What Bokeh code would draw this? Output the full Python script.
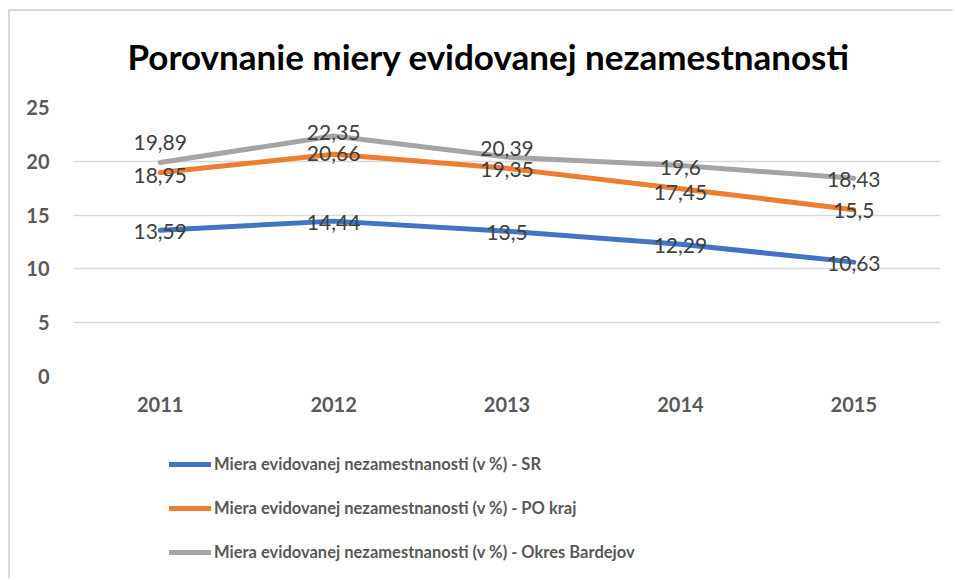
from bokeh.plotting import figure
from bokeh.layouts import column
from bokeh.models import ColumnDataSource, Legend, LegendItem, Range1d, FixedTicker, Label
from bokeh.embed import file_html
from bokeh.resources import INLINE
from bokeh.core.properties import value

years = ["2011", "2012", "2013", "2014", "2015"]
sr = [13.59, 14.44, 13.5, 12.29, 10.63]
po_kraj = [18.95, 20.66, 19.35, 17.45, 15.5]
bardejov = [19.89, 22.35, 20.39, 19.6, 18.43]
series_names = [
    "Miera evidovanej nezamestnanosti (v %) - SR",
    "Miera evidovanej nezamestnanosti (v %) - PO kraj",
    "Miera evidovanej nezamestnanosti (v %) - Okres Bardejov",
]
title_text = "Porovnanie miery evidovanej nezamestnanosti"
y_ticks = [0, 5, 10, 15, 20, 25]

# label vertical nudges (screen px, positive = down), styling only
label_dy = [
    [1, 1, 1, 1, 1],
    [3, -1, 1, 4, 1],
    [-20, -4, -9, 2, 1],
]
colors = ["#4472C4", "#ED7D31", "#A5A5A5"]
FONT = "Lato"
BORDER = "2px solid #d9d9d9"

# title strip
p0 = figure(
    x_range=Range1d(0, 1), y_range=Range1d(0, 1),
    width=945, height=86, output_backend="svg", toolbar_location=None,
    x_axis_location=None, y_axis_location=None,
    min_border_left=63, min_border_right=15, min_border_top=0, min_border_bottom=0,
)
p0.grid.visible = False
p0.outline_line_color = None
p0.styles = {"border-left": BORDER, "border-top": BORDER,
             "margin-left": "8px", "margin-top": "9px"}
p0.add_layout(Label(
    x=54, y=42, x_units="screen", y_units="screen", text=title_text,
    text_font=FONT, text_font_style="bold", text_font_size="35px",
    text_color="#000000", text_align="left", text_baseline="middle",
))

# main chart
p = figure(
    x_range=years, y_range=Range1d(0, 25),
    width=945, height=331,
    output_backend="svg", toolbar_location=None,
    min_border_left=63, min_border_right=15,
    min_border_top=12, min_border_bottom=50,
)
p.outline_line_color = None
p.styles = {"border-left": BORDER, "margin-left": "8px"}

p.xgrid.grid_line_color = None
p.ygrid.grid_line_color = "#d9d9d9"
p.ygrid.grid_line_width = 1.5
p.yaxis.ticker = FixedTicker(ticks=y_ticks)

for ax in (p.xaxis, p.yaxis):
    ax.axis_line_color = None
    ax.major_tick_line_color = None
    ax.minor_tick_line_color = None
    ax.major_label_text_font = FONT
    ax.major_label_text_font_style = "bold"
    ax.major_label_text_font_size = "20px"
    ax.major_label_text_color = "#595959"
p.yaxis.major_label_standoff = 18
p.xaxis.major_label_standoff = 14

sources = []
for vals, col in zip([sr, po_kraj, bardejov], colors):
    src = ColumnDataSource(dict(x=years, y=vals))
    sources.append(src)
    p.line("x", "y", source=src, line_color=col, line_width=5,
           line_cap="round", line_join="round")

for vals, dys in zip([sr, po_kraj, bardejov], label_dy):
    src = ColumnDataSource(dict(
        x=years, y=vals,
        lab=[str(v).replace(".", ",") for v in vals],
        dy=dys,
    ))
    p.text("x", "y", text="lab", source=src, y_offset="dy",
           text_font=value(FONT), text_font_size="21px", text_color="#404040",
           text_align="center", text_baseline="middle")

# legend strip below the chart (its own ranges keep the series out of view)
p2 = figure(
    x_range=years, y_range=Range1d(-100, -90),
    width=945, height=152, output_backend="svg", toolbar_location=None,
    x_axis_location=None, y_axis_location=None,
    min_border_left=63, min_border_right=15, min_border_top=0, min_border_bottom=0,
)
p2.grid.visible = False
p2.outline_line_color = None
p2.styles = {"border-left": BORDER, "margin-left": "8px"}

items = []
for name, col, src in zip(series_names, colors, sources):
    r = p2.line("x", "y", source=src, line_color=col, line_width=5, line_cap="round")
    items.append(LegendItem(label=name, renderers=[r]))

legend = Legend(
    items=items, location=(96, 16), orientation="vertical",
    glyph_width=42, glyph_height=20, label_height=20, spacing=24,
    label_standoff=3, padding=0, margin=0,
    border_line_color=None, background_fill_alpha=0,
    label_text_font=FONT, label_text_font_style="bold",
    label_text_font_size="16.5px", label_text_color="#595959",
)
p2.add_layout(legend, "center")

layout = column(p0, p, p2, spacing=0)
open("out.html", "w").write(file_html(layout, INLINE))
